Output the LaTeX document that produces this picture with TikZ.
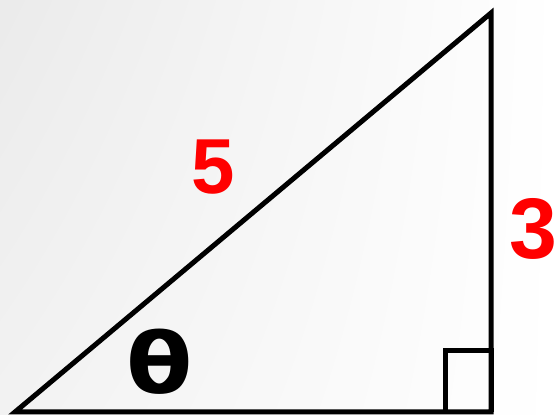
\documentclass[tikz,border=0pt]{standalone}
\usepackage{fontspec}
\setmainfont{Liberation Sans}
\newfontfamily\anglefont{DejaVu Sans}
\usetikzlibrary{positioning,calc,shadings}

\tikzset{
  side/.style={line width=5pt, line join=miter},
  sidelabel/.style={text=red, font=\bfseries, inner sep=0pt},
}

\begin{document}
\begin{tikzpicture}[x=1pt,y=1pt]
% Background
\shade[upper left=black!8, lower left=black!5, upper right=white, lower right=white]
  (0,0) rectangle (557,415);
\useasboundingbox (0,0) rectangle (557,415);
% Corners
\coordinate (A) at (15,3);
\coordinate (B) at (491,3);
\coordinate (C) at (491,402);
% Triangle
\draw[side] (A) -- (B) -- (C) -- cycle;
% Right angle mark
\coordinate (R) at (445.5,64.5);
\draw[side] (B -| R) |- (R) -| (B);
% Labels
\node[sidelabel, font=\fontsize{78}{78}\bfseries] (hyp) at (213,248) {5};
\node[sidelabel, font=\fontsize{86}{86}\bfseries] (opp) at (533,186) {3};
\node[font=\anglefont\fontsize{84}{84}\bfseries, inner sep=0pt] (ang) at (160,53) {\scalebox{1.15}[1]{θ}};
\end{tikzpicture}
\end{document}
